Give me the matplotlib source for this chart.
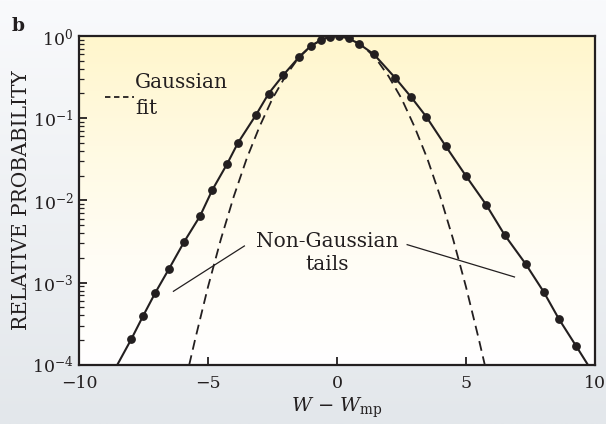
import numpy as np
import matplotlib
matplotlib.use("Agg")
import matplotlib.pyplot as plt
from matplotlib.colors import LinearSegmentedColormap

# measured points (x = W - W_mp, log10 of relative probability)
data_x = [-7.98, -7.51, -7.04, -6.51, -5.92, -5.31, -4.83, -4.26, -3.84, -3.14,
          -2.65, -2.08, -1.46, -1.02, -0.62, -0.27, 0.08, 0.45, 0.86, 1.43,
          2.25, 2.88, 3.46, 4.21, 5.0, 5.78, 6.50, 7.31, 8.01, 8.60, 9.27]
data_logp = [-3.69, -3.40, -3.12, -2.83, -2.50, -2.19, -1.87, -1.556, -1.30, -0.96,
             -0.70, -0.474, -0.252, -0.122, -0.049, -0.008, 0.0, -0.028, -0.097, -0.222,
             -0.507, -0.745, -0.981, -1.337, -1.702, -2.05, -2.42, -2.77, -3.11, -3.44, -3.77]

# where the solid curve leaves the frame at the bottom
tail_x = [-8.52, 9.73]
tail_logp = [-4.0, -4.0]

# gaussian fit
fit_x = [-5.73, -5.5, -5.0, -4.5, -4.0, -3.5, -3.0, -2.5, -2.0, -1.5, -1.0, -0.5, 0.0,
         0.5, 1.0, 1.5, 2.0, 2.5, 3.0, 3.5, 4.0, 4.5, 5.0, 5.5, 5.73]
fit_logp = [-4.0, -3.69, -3.05, -2.47, -1.95, -1.49, -1.10, -0.76, -0.49, -0.27, -0.12, -0.03, 0.0,
            -0.03, -0.12, -0.27, -0.49, -0.76, -1.10, -1.49, -1.95, -2.47, -3.05, -3.69, -4.0]

x_ticks = [-10, -5, 0, 5, 10]
x_ticklabels = ["\u221210", "\u22125", "0", "5", "10"]
y_ticks = [1e-4, 1e-3, 1e-2, 1e-1, 1e0]
y_ticklabels = [r"$10^{-4}$", r"$10^{-3}$", r"$10^{-2}$", r"$10^{-1}$", r"$10^{0}$"]

plt.rcParams["font.family"] = "DejaVu Serif"
plt.rcParams["mathtext.fontset"] = "dejavuserif"

ink = "#231f20"

fig = plt.figure(figsize=(6.06, 4.24), dpi=100)

# page background gradient
bg = fig.add_axes([0, 0, 1, 1], zorder=-5)
bg_cmap = LinearSegmentedColormap.from_list("bg", ["#f9fafc", "#e3e7eb"])
bg.imshow(np.linspace(0, 1, 256).reshape(-1, 1), cmap=bg_cmap, aspect="auto",
          extent=[0, 1, 0, 1], origin="upper")
bg.axis("off")

ax = fig.add_axes([0.1304, 0.1392, 0.8514, 0.7759])
ax.set_facecolor("none")
fill_cmap = LinearSegmentedColormap.from_list("fill", ["#fff6cc", "#fffae2", "#fffdf5", "#ffffff"])
ax.imshow(np.linspace(0, 1, 256).reshape(-1, 1), cmap=fill_cmap, aspect="auto",
          extent=[0, 1, 0, 1], origin="upper", transform=ax.transAxes, zorder=0)

dx = np.array(data_x)
dp = 10 ** np.array(data_logp)
curve_x = [tail_x[0]] + data_x + [tail_x[1]]
curve_p = 10 ** np.array([tail_logp[0]] + data_logp + [tail_logp[1]])

ax.plot(fit_x, 10 ** np.array(fit_logp), color=ink, lw=1.3, ls=(0, (5.5, 3.2)), zorder=2)
ax.plot(curve_x, curve_p, color=ink, lw=1.5, zorder=3)
ax.plot(dx, dp, "o", color=ink, ms=5.3, zorder=4)

ax.set_yscale("log")
ax.set_xlim(-10, 10)
ax.set_ylim(1e-4, 1e0)

ax.set_xticks(x_ticks)
ax.set_xticklabels(x_ticklabels, fontsize=12.5)
ax.set_yticks(y_ticks)
ax.set_yticklabels(y_ticklabels, fontsize=12.5)
ax.yaxis.set_minor_locator(matplotlib.ticker.LogLocator(base=10, subs=np.arange(2, 10)))
ax.yaxis.set_minor_formatter(matplotlib.ticker.NullFormatter())
ax.tick_params(axis="both", which="major", direction="in", length=6, width=1.3,
               color=ink, labelcolor=ink, top=False, right=False)
ax.tick_params(axis="x", pad=7)
ax.tick_params(axis="y", pad=4)
ax.tick_params(axis="y", which="minor", direction="in", length=3.5, width=0.9, color=ink, right=False)
for s in ax.spines.values():
    s.set_linewidth(1.6)
    s.set_color(ink)

ax.set_ylabel("RELATIVE PROBABILITY", fontsize=14.5, color=ink, labelpad=1)
ax.set_xlabel("$W$ \u2212 $W_{\\mathrm{mp}}$", fontsize=14, color=ink, labelpad=3)

# legend for the dashed fit
ax.plot([-9.0, -7.85], [10 ** -0.74, 10 ** -0.74], color=ink, lw=1.3, ls=(0, (3, 2)), zorder=5)
ax.text(-7.82, 10 ** -0.57, "Gaussian", fontsize=14.5, color=ink, va="center", ha="left")
ax.text(-7.82, 10 ** -0.88, "fit", fontsize=14.5, color=ink, va="center", ha="left")

# tail annotation
ax.text(-0.39, 10 ** -2.64, "Non-Gaussian\ntails", fontsize=14.5, color=ink,
        ha="center", va="center", linespacing=1.25)
ax.plot([-6.34, -3.59], [10 ** -3.104, 10 ** -2.553], color=ink, lw=0.9, zorder=5)
ax.plot([2.72, 6.88], [10 ** -2.537, 10 ** -2.93], color=ink, lw=0.9, zorder=5)

fig.text(0.019, 0.938, "b", fontsize=13.5, fontweight="bold", color=ink, va="center")

fig.savefig("out.png", dpi=100)
